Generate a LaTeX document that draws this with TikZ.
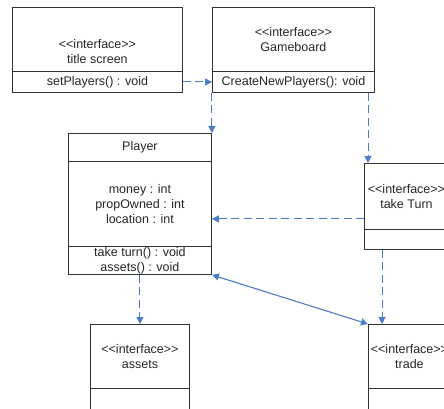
\documentclass[tikz,border=0pt]{standalone}
\usepackage{fontspec}
\setmainfont{Liberation Sans}
\usetikzlibrary{calc,arrows.meta}
\definecolor{linkblue}{RGB}{74,124,200}
\newcommand{\umlstereo}[1]{<\kern0pt<#1>\kern0pt>}

\begin{document}
\begin{tikzpicture}[x=1pt,y=-1pt,line width=0.9pt,>={Triangle[length=7pt,width=7pt]},
  umlbox/.style={draw=black!80,rectangle,inner sep=0pt,anchor=north west,align=center,text=black!85,font=\fontsize{12.5}{15}\selectfont},
  umltext/.style={inner sep=0pt,align=center,text=black!85,font=\fontsize{12.5}{15}\selectfont},
  dep/.style={->,linkblue,line width=1pt,dash pattern=on 8pt off 4.5pt},
  assoc/.style={<->,linkblue,line width=1.1pt}]
  \path[use as bounding box,clip] (0,0) rectangle (444,409);
  % title screen
  \node[umlbox,minimum width=170pt,minimum height=64pt] (ts) at (12,7) {};
  \node[umltext] (tstxt) at ($(ts.center)+(0,12)$) {\umlstereo{interface}\\title screen};
  \node[umlbox,minimum width=170pt,minimum height=21pt] (tsops) at (12,71) {setPlayers() : void};
  % gameboard
  \node[umlbox,minimum width=162pt,minimum height=64pt] (gb) at (212,7) {\umlstereo{interface}\\Gameboard};
  \node[umlbox,minimum width=162pt,minimum height=21pt] (gbops) at (212,71) {CreateNewPlayers(): void};
  % player
  \node[umlbox,minimum width=143pt,minimum height=28pt] (pl) at (68,133) {Player};
  \node[umlbox,minimum width=143pt,minimum height=85pt] (plattr) at (68,161) {money : int\\propOwned : int\\location : int};
  \node[umlbox,minimum width=143pt,minimum height=28pt] (plops) at (68,246) {take turn() : void\\assets() : void};
  % take turn
  \node[umlbox,minimum width=84pt,minimum height=66pt] (tt) at (364,163) {\umlstereo{interface}\\take Turn};
  \node[umlbox,minimum width=84pt,minimum height=20pt] (ttops) at (364,229) {};
  % assets, trade
  \node[umlbox,minimum width=99pt,minimum height=64pt] (as) at (90,324) {\umlstereo{interface}\\assets};
  \node[umlbox,minimum width=99pt,minimum height=40pt] (asops) at (90,388) {};
  \node[umlbox,minimum width=82pt,minimum height=64pt] (tr) at (368,324) {\umlstereo{interface}\\trade};
  \node[umlbox,minimum width=82pt,minimum height=40pt] (trops) at (368,388) {};
  % links
  \coordinate (ttx) at ($(tt.north west)+(4,0)$);
  \coordinate (ttin) at ($(tt.south west)+(0,-11)$);
  \coordinate (trin) at ($(tr.north west)+(14,0)$);
  \draw[dep] (tsops.east) -- (gbops.west);
  \draw[dep] (gbops.south -| pl.north east) -- (pl.north east);
  \draw[dep] (gbops.south -| ttx) -- (ttx);
  \draw[dep] (ttin) -- (ttin -| plattr.east);
  \draw[dep] (ttops.south -| trin) -- (trin);
  \draw[dep] (plops.south -| as.north) -- (as.north);
  \draw[assoc] (plops.south east) -- (tr.north west);
\end{tikzpicture}
\end{document}
